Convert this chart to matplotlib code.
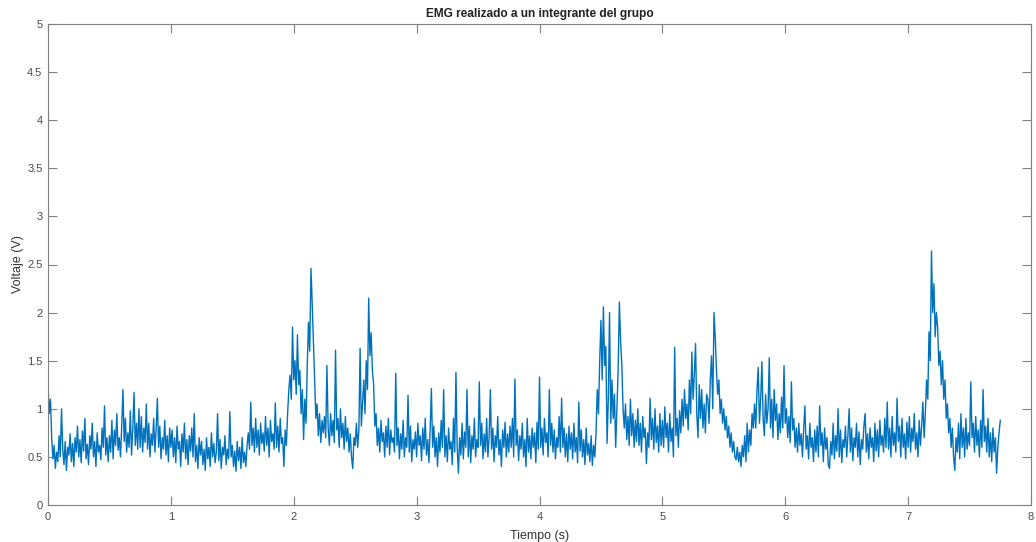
import numpy as np
import matplotlib
matplotlib.use("Agg")
import matplotlib.pyplot as plt
from matplotlib.ticker import FormatStrFormatter

sample_interval = 0.01  # s

# EMG voltage samples (V), 0.25 s per row
voltage = [
    1.25, 0.95, 1.1, 0.7, 0.48, 0.62, 0.38, 0.55, 0.45, 0.72, 0.5, 1.0, 0.58, 0.42, 0.66, 0.36, 0.6, 0.52, 0.74, 0.45, 0.64, 0.4, 0.7, 0.55, 0.82,
    0.5, 0.68, 0.44, 0.77, 0.56, 0.9, 0.48, 0.63, 0.42, 0.72, 0.58, 0.85, 0.5, 0.66, 0.4, 0.75, 0.55, 0.62, 0.47, 0.8, 0.6, 1.03, 0.52, 0.7, 0.45,
    0.72, 0.55, 0.88, 0.48, 0.78, 0.62, 0.95, 0.57, 0.7, 0.5, 0.82, 1.2, 0.66, 0.9, 0.55, 0.75, 0.6, 0.98, 0.52, 0.8, 1.17, 0.62, 0.85, 0.58, 1.0,
    0.6, 0.92, 0.55, 0.8, 0.65, 1.05, 0.58, 0.85, 0.5, 0.74, 0.62, 0.9, 0.55, 0.78, 1.11, 0.6, 0.82, 0.48, 0.7, 0.58, 0.88, 0.52, 0.72, 0.45, 0.8,
    0.6, 0.78, 0.5, 0.7, 0.44, 0.82, 0.58, 0.66, 0.4, 0.74, 0.55, 0.85, 0.48, 0.68, 0.42, 0.72, 0.56, 0.8, 0.5, 0.95, 0.45, 0.62, 0.38, 0.7, 0.52,
    0.66, 0.42, 0.58, 0.36, 0.7, 0.48, 0.6, 0.4, 0.75, 0.5, 0.64, 0.44, 0.55, 0.95, 0.46, 0.68, 0.38, 0.6, 0.52, 0.72, 0.42, 0.58, 0.48, 0.97, 0.5,
    0.62, 0.4, 0.56, 0.35, 0.66, 0.46, 0.6, 0.38, 0.7, 0.44, 0.55, 0.4, 0.62, 0.75, 0.58, 1.07, 0.62, 0.8, 0.55, 0.9, 0.6, 0.78, 0.52, 0.85, 0.64,
    0.75, 0.56, 0.92, 0.62, 0.8, 0.5, 0.88, 0.66, 0.74, 0.58, 1.06, 0.6, 0.82, 0.55, 0.9, 0.64, 0.7, 0.4, 0.78, 0.62, 0.95, 1.2, 1.35, 1.1, 1.85,
    1.3, 1.5, 1.15, 1.77, 1.25, 1.4, 0.95, 1.2, 0.68, 1.1, 0.85, 1.45, 1.9, 1.6, 2.46, 2.1, 1.7, 1.3, 0.9, 1.05, 0.72, 0.95, 0.65, 0.88, 0.75,
    0.92, 0.7, 1.45, 0.8, 0.62, 0.95, 0.72, 0.88, 0.65, 1.61, 0.78, 0.9, 0.6, 1.0, 0.7, 0.85, 0.58, 0.92, 0.66, 0.8, 0.55, 0.74, 0.5, 0.38, 0.7,
    0.62, 0.85, 0.6, 0.78, 1.63, 0.82, 1.05, 1.3, 0.95, 1.5, 1.2, 2.15, 1.55, 1.79, 1.4, 1.25, 0.82, 0.95, 0.62, 0.8, 0.55, 0.88, 0.66, 0.75, 0.5,
    0.82, 0.6, 0.9, 0.52, 0.78, 0.65, 0.7, 0.55, 1.37, 0.62, 0.8, 0.48, 0.74, 0.58, 0.88, 0.5, 0.7, 0.6, 1.14, 0.55, 0.82, 0.45, 0.68, 0.58, 0.76,
    0.5, 0.85, 0.62, 0.72, 0.46, 0.8, 0.58, 0.9, 0.52, 0.68, 0.44, 0.78, 1.21, 0.6, 0.82, 0.5, 0.7, 0.4, 0.75, 0.55, 0.88, 0.6, 1.2, 0.5, 0.72,
    0.45, 0.8, 0.58, 0.66, 0.42, 0.9, 0.55, 1.38, 0.6, 0.33, 0.7, 0.52, 0.85, 0.48, 0.76, 0.6, 1.2, 0.5, 0.82, 0.44, 0.72, 0.58, 0.9, 0.5, 0.68,
    0.6, 1.28, 0.62, 0.85, 0.48, 0.74, 0.55, 0.9, 0.5, 0.7, 1.2, 0.58, 0.8, 0.45, 0.72, 0.6, 0.92, 0.52, 0.68, 0.4, 0.78, 0.6, 0.86, 0.5, 0.74,
    0.55, 0.82, 0.6, 0.9, 0.5, 1.31, 0.62, 0.78, 0.46, 0.72, 0.58, 0.85, 0.5, 0.68, 0.4, 0.9, 0.55, 0.72, 0.48, 0.8, 0.6, 0.75, 0.44, 0.86, 0.58,
    1.33, 0.6, 0.8, 0.52, 0.9, 0.65, 0.75, 0.5, 1.2, 0.62, 0.85, 0.55, 0.78, 0.48, 0.7, 0.6, 0.92, 0.55, 1.11, 0.6, 0.8, 0.5, 0.74, 0.45, 0.82,
    0.58, 0.75, 0.48, 0.85, 0.55, 0.7, 0.44, 1.07, 0.56, 0.78, 0.5, 0.68, 0.42, 0.8, 0.52, 0.64, 0.45, 0.72, 0.41, 0.62, 0.5, 0.75, 1.2, 0.95, 1.5,
    1.92, 1.3, 2.06, 1.45, 1.65, 0.64, 1.1, 2.0, 0.85, 1.3, 0.9, 1.15, 0.6, 1.0, 1.4, 2.11, 1.7, 1.45, 1.0, 0.8, 1.05, 0.68, 0.92, 0.62, 1.1,
    0.72, 0.95, 0.6, 0.88, 0.66, 1.0, 0.62, 0.85, 0.55, 0.92, 0.7, 0.8, 0.43, 0.75, 0.6, 1.11, 0.68, 0.9, 0.58, 1.0, 0.65, 0.82, 0.55, 0.95, 0.62,
    0.88, 0.6, 1.02, 0.7, 0.85, 0.55, 0.95, 0.66, 0.8, 0.5, 1.64, 0.72, 0.9, 0.6, 0.98, 0.75, 1.1, 0.82, 1.2, 0.9, 1.05, 0.78, 1.3, 0.95, 1.59,
    1.1, 1.35, 1.68, 0.95, 0.7, 1.25, 0.9, 1.2, 0.8, 1.05, 0.75, 1.15, 1.1, 0.85, 1.3, 1.55, 1.0, 2.0, 1.75, 1.4, 1.15, 1.3, 0.95, 1.1, 0.85,
    1.0, 0.78, 0.92, 0.7, 0.82, 0.6, 0.75, 0.55, 0.66, 0.5, 0.47, 0.6, 0.45, 0.55, 0.4, 0.62, 0.5, 0.72, 0.45, 0.85, 0.55, 0.78, 0.62, 0.95, 0.8,
    1.05, 0.8, 1.2, 1.43, 0.85, 1.1, 1.49, 0.9, 0.72, 1.15, 0.85, 1.0, 1.53, 0.8, 1.1, 0.7, 1.2, 0.88, 1.05, 0.68, 0.95, 0.75, 1.12, 0.8, 1.45,
    0.85, 1.0, 0.7, 0.92, 0.65, 1.28, 0.78, 0.9, 0.6, 0.8, 0.55, 0.85, 0.62, 0.74, 0.5, 0.8, 1.03, 0.58, 0.72, 0.48, 0.85, 0.6, 0.7, 0.45, 0.78,
    0.55, 0.82, 0.5, 1.03, 0.62, 0.75, 0.45, 0.8, 0.58, 0.7, 0.42, 0.38, 0.66, 0.52, 0.85, 0.48, 0.72, 0.56, 1.0, 0.5, 0.78, 0.44, 0.68, 0.6, 0.82,
    0.5, 0.72, 1.0, 0.55, 0.8, 0.46, 0.7, 0.6, 0.85, 0.5, 0.76, 0.42, 0.68, 0.58, 0.82, 0.95, 0.55, 0.74, 0.48, 0.8, 0.6, 0.7, 0.45, 0.85, 0.56,
    0.78, 0.5, 0.88, 0.62, 0.72, 0.55, 0.9, 0.6, 1.07, 0.58, 0.8, 0.5, 0.92, 0.62, 0.75, 0.55, 1.11, 0.66, 0.82, 0.5, 0.9, 0.6, 0.74, 0.48, 0.86,
    0.6, 0.92, 0.55, 0.8, 0.66, 0.95, 0.58, 0.75, 0.5, 0.88, 0.62, 0.82, 1.07, 0.7, 0.95, 1.3, 1.1, 1.8, 1.5, 2.64, 2.0, 2.3, 1.75, 2.0, 1.85,
    1.45, 1.6, 1.25, 1.5, 1.1, 1.3, 0.9, 1.05, 0.75, 0.9, 0.6, 0.8, 0.5, 0.36, 0.7, 0.55, 0.85, 0.48, 0.95, 0.6, 0.8, 0.5, 0.9, 0.58, 0.75,
    0.62, 1.28, 0.7, 0.85, 0.55, 0.92, 0.62, 0.78, 0.5, 0.88, 0.6, 1.2, 0.66, 0.82, 0.55, 0.9, 0.5, 0.75, 0.45, 0.8, 0.55, 0.7, 0.33, 0.6, 0.75, 0.88,
]

x_ticks = [0, 1, 2, 3, 4, 5, 6, 7, 8]
y_ticks = [0, 0.5, 1, 1.5, 2, 2.5, 3, 3.5, 4, 4.5, 5]

title_text = "EMG realizado a un integrante del grupo"
xlabel_text = "Tiempo (s)"
ylabel_text = "Voltaje (V)"

plt.rcParams['font.family'] = ['Liberation Sans', 'DejaVu Sans']

time = np.arange(len(voltage)) * sample_interval

fig = plt.figure(figsize=(10.36, 5.42), dpi=100)
ax = fig.add_axes([48 / 1036, 37 / 542, 983 / 1036, 481 / 542])

ax.plot(time, voltage, color='#0072BD', linewidth=1.0)

ax.set_xlim(0, 8)
ax.set_ylim(0, 5)
ax.set_xticks(x_ticks)
ax.set_yticks(y_ticks)
ax.yaxis.set_major_formatter(FormatStrFormatter('%g'))

axis_color = '#808080'
for s in ax.spines.values():
    s.set_color(axis_color)
    s.set_linewidth(0.8)
ax.tick_params(direction='in', length=6.5, width=0.8, color=axis_color,
               labelcolor='#4a4a4a', labelsize=8, top=True, right=True)
ax.tick_params(axis='x', pad=5)
ax.tick_params(axis='y', pad=4)

ax.set_title(title_text, fontsize=8.6, fontweight='bold', color='#222222', pad=5)
ax.set_xlabel(xlabel_text, fontsize=9, color='#333333', labelpad=6)
ax.set_ylabel(ylabel_text, fontsize=9, color='#333333', labelpad=2)

fig.savefig('out.png', dpi=100, facecolor='white')
